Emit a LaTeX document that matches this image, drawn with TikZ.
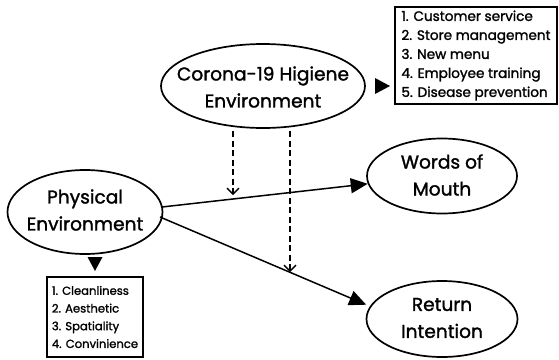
\documentclass[tikz,border=0pt]{standalone}
\usepackage{fontspec}
\setmainfont{Poppins}[FakeBold=1.5]
\usetikzlibrary{shapes.geometric,arrows.meta}
\begin{document}
\begin{tikzpicture}[x=1pt,y=-1pt,
  oval/.style={ellipse, draw, line width=1.7pt, inner sep=0pt},
  ovaltext/.style={font=\fontsize{18.6}{27}\selectfont, align=center, inner sep=0pt},
  listbox/.style={draw, line width=1.3pt, align=left, inner xsep=5pt, inner ysep=0pt},
  solidarrow/.style={line width=1.5pt, -{Triangle[length=17pt,width=15pt]}},
  dasharrow/.style={line width=1.3pt, dash pattern=on 6pt off 3.5pt, -{Straight Barb[length=6pt,width=12pt,line width=1.3pt]}},
  tri/.style={fill=black}]
\useasboundingbox (0,0) rectangle (559,359);

\node[oval, minimum width=204, minimum height=84,
  label={[ovaltext, yshift=-1pt]center:Corona-19 Higiene\\Environment}] (corona) at (263,86) {};
\node[oval, minimum width=155, minimum height=84,
  label={[ovaltext, yshift=2pt]center:Physical\\Environment}] (phys) at (85,212) {};
\node[oval, minimum width=150, minimum height=75,
  label={[ovaltext, yshift=1pt]center:Words of\\Mouth}] (wom) at (442,176) {};
\node[oval, minimum width=151, minimum height=76,
  label={[ovaltext, yshift=1pt]center:Return\\Intention}] (ret) at (442,319) {};

\node[listbox, font=\fontsize{13.6}{19}\selectfont, minimum width=162, minimum height=97] (list1) at (476,55.5)
  {1. Customer service\\2. Store management\\3. New menu\\4. Employee training\\5. Disease prevention};
\node[listbox, font=\fontsize{11.6}{17.7}\selectfont, minimum width=96, minimum height=80] (list2) at (95,317)
  {1. Cleanliness\\2. Aesthetic\\3. Spatiality\\4. Convinience};

% triangles
\coordinate (t1) at (375,86);
\fill[tri] (t1) ++(0,-8) -- ++(15,8) -- ++(-15,8) -- cycle;
\coordinate (t2) at (95,257);
\fill[tri] (t2) ++(-7.5,0) -- ++(15,0) -- ++(-7.5,14) -- cycle;

% solid arrows
\coordinate (s1) at (162,207);
\coordinate (s2) at (160,217);
\draw[solidarrow] (s1) -- (wom.186);
\draw[solidarrow, shorten >=4pt] (s2) -- (ret.170);

% dashed arrows
\coordinate (d1a) at (233,131);
\coordinate (d1b) at (233,195);
\coordinate (d2a) at (290,131);
\coordinate (d2b) at (290,272);
\draw[dasharrow] (d1a) -- (d1b);
\draw[dasharrow] (d2a) -- (d2b);
\end{tikzpicture}
\end{document}
